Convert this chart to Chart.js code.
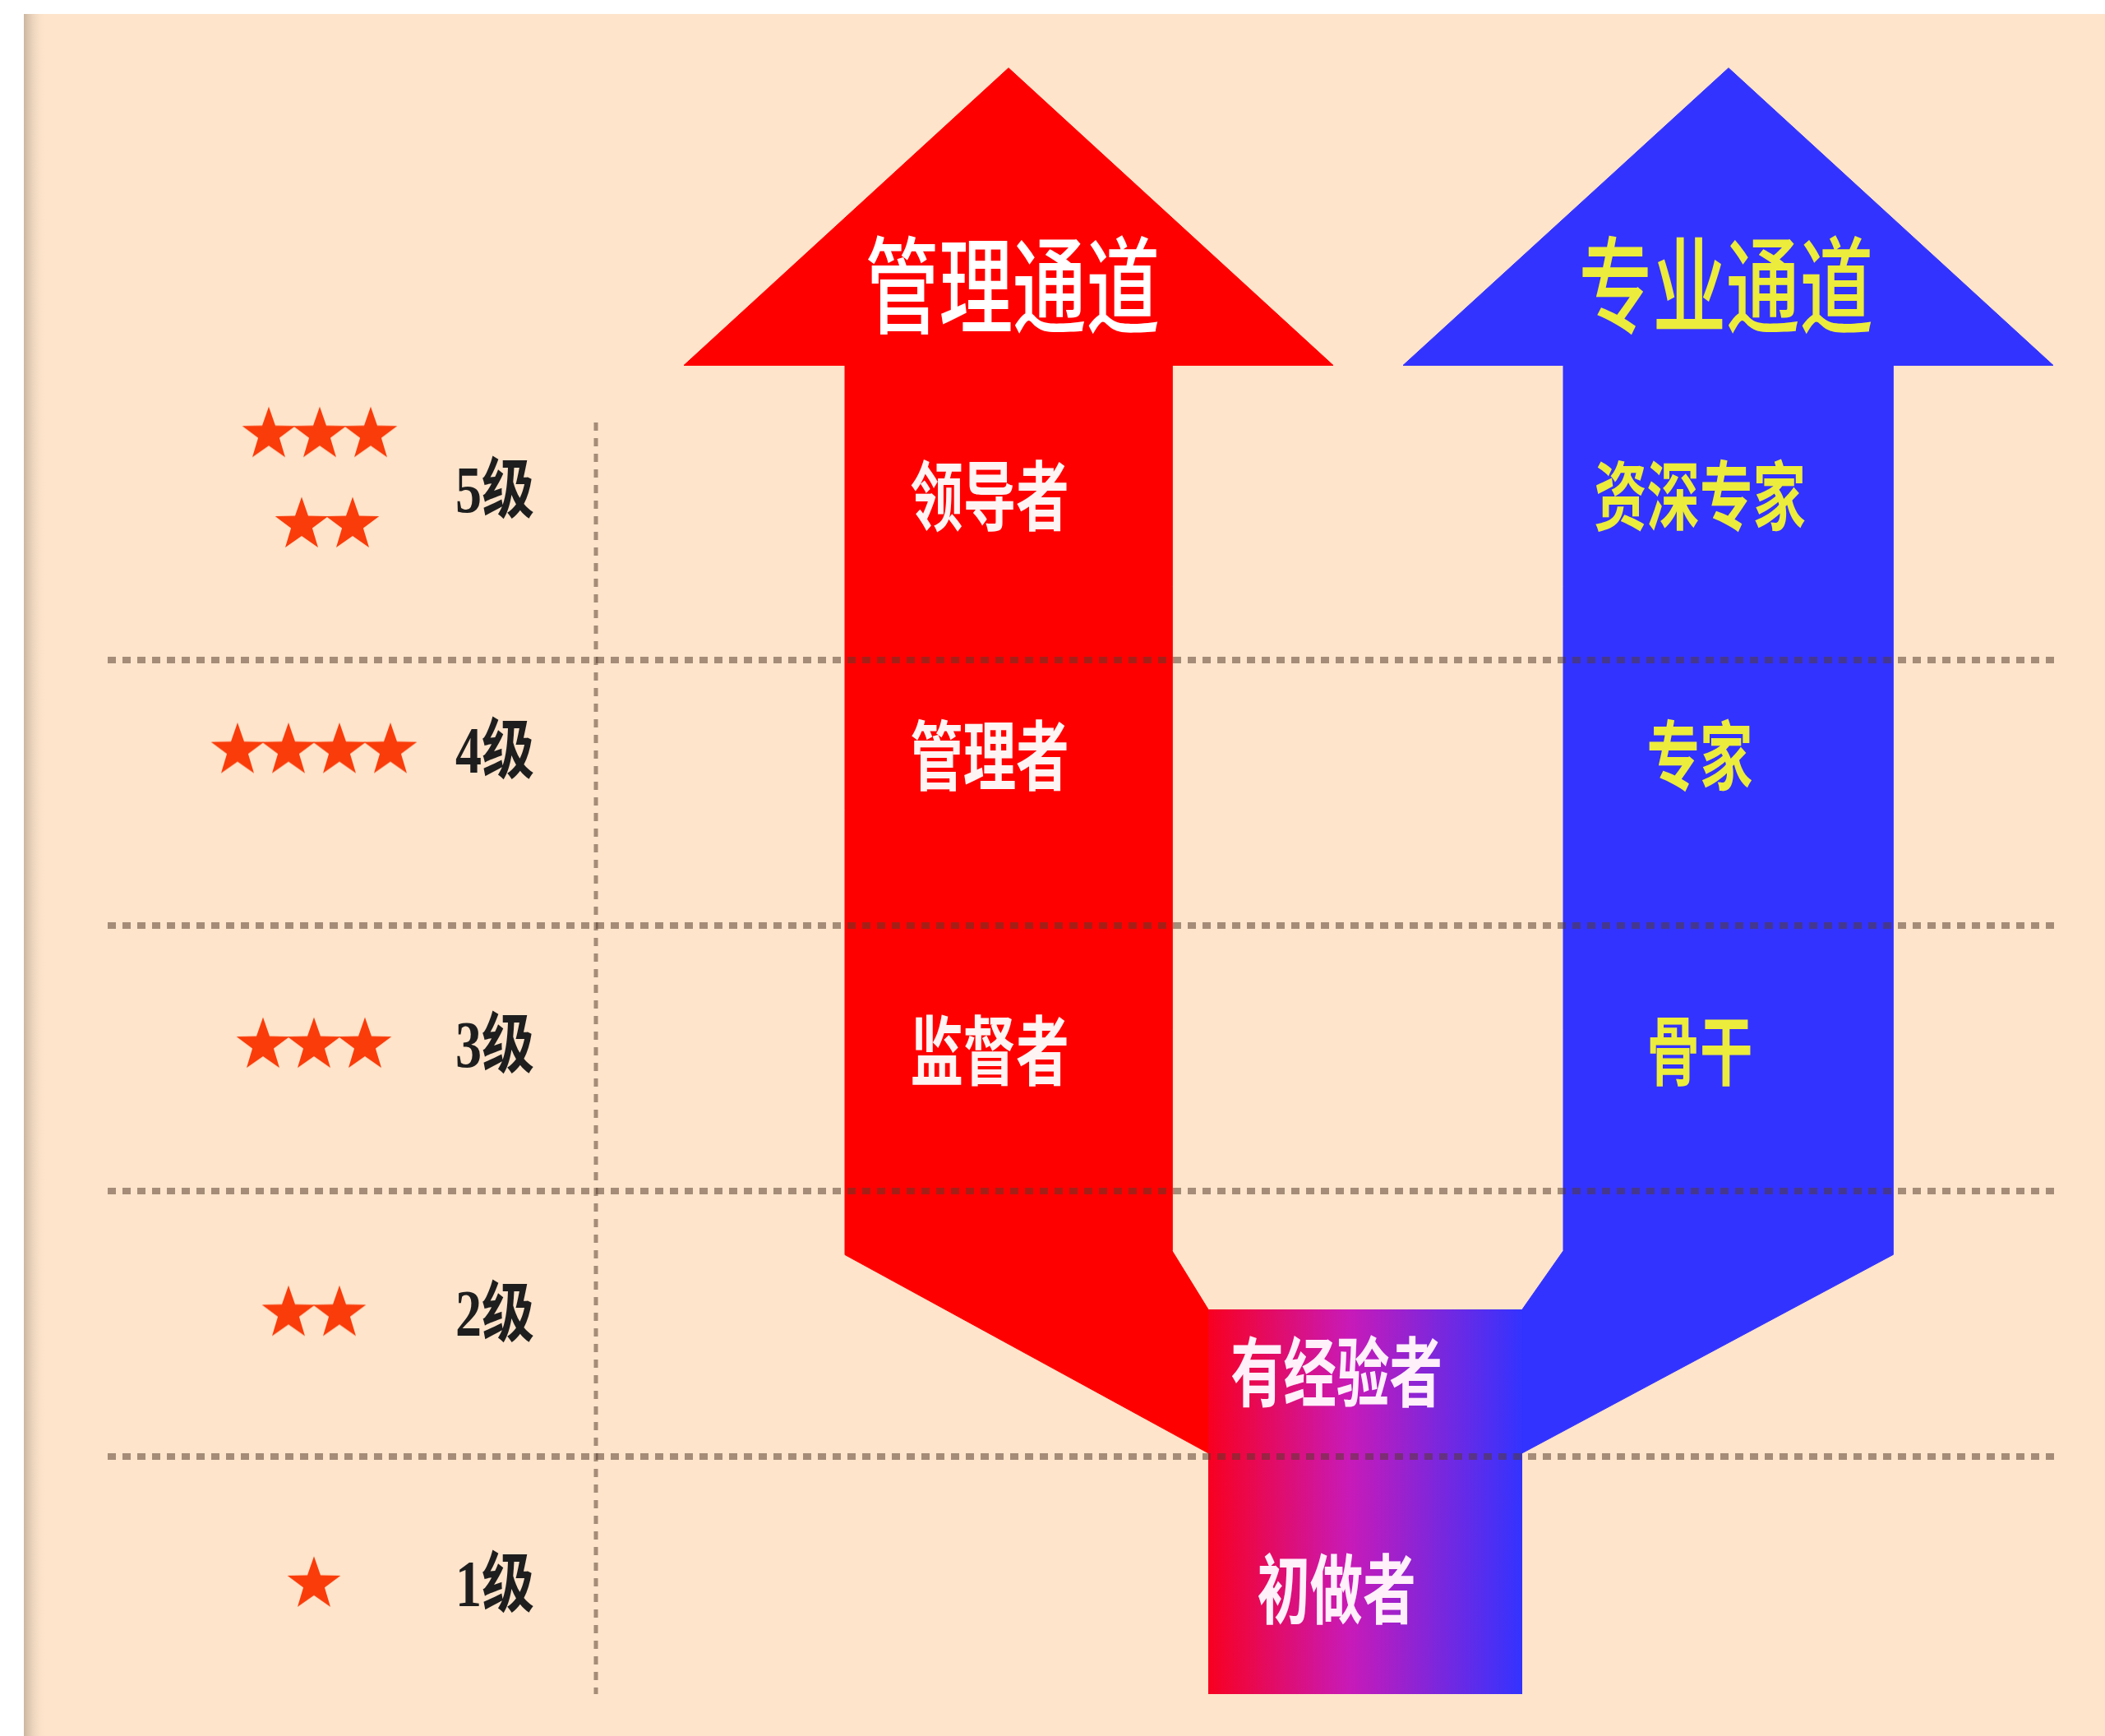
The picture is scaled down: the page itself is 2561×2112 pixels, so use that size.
<!DOCTYPE html>
<html>
<head>
<meta charset="utf-8">
<script src="https://cdn.jsdelivr.net/npm/chart.js@4.4.1/dist/chart.umd.min.js"></script>
<style>
  html, body { margin: 0; padding: 0; background: #fff; overflow: hidden; }
  canvas { display: block; }
</style>
</head>
<body>
<canvas id="careerChart" width="2561" height="2112"></canvas>
<script>
// ===== data =====
const levels = ['1级', '2级', '3级', '4级', '5级'];
const levelStars = [1, 2, 3, 4, 5];
const channels = ['管理通道', '专业通道'];
const managementRoles = ['监督者', '管理者', '领导者'];   // 3级 - 5级
const professionalRoles = ['骨干', '专家', '资深专家'];    // 3级 - 5级
const sharedRoles = ['初做者', '有经验者'];                // 1级 - 2级

// ===== layout (x: 1 unit = 100px, y: 1 unit = one level row) =====
const rowLabelY = [0.5, 1.52, 2.53, 3.64, 4.62];
const sharedLabelY = [0.5, 1.32];
const arrowTipY = 6.23, headBaseY = 5.11;
const innerBendY = 1.775, outerBendY = 1.76, mergeTopY = 1.554, joinY = 1.013, blockBottomY = 0.105;
const redArrow = { tip: 12.27, headL: 8.32, headR: 16.22, shaftL: 10.28, shaftR: 14.26 };
const blueArrow = { tip: 21.03, headL: 17.07, headR: 24.98, shaftL: 19.02, shaftR: 23.03 };
const blockL = 14.70, blockR = 18.52;

const RED = '#ff0000';
const BLUE = '#3333ff';
const PEACH = '#fde4cb';
const DASH = 'rgba(85,60,45,0.52)';

function pts(list) {
  return list.map(p => ({ x: p[0], y: p[1] }));
}

const redShape = pts([
  [redArrow.tip, arrowTipY], [redArrow.headR, headBaseY], [redArrow.shaftR, headBaseY],
  [redArrow.shaftR, innerBendY], [blockL, mergeTopY], [blockL, joinY],
  [redArrow.shaftL, outerBendY], [redArrow.shaftL, headBaseY], [redArrow.headL, headBaseY],
  [redArrow.tip, arrowTipY]
]);
const blueShape = pts([
  [blueArrow.tip, arrowTipY], [blueArrow.headR, headBaseY], [blueArrow.shaftR, headBaseY],
  [blueArrow.shaftR, outerBendY], [blockR, joinY], [blockR, mergeTopY],
  [blueArrow.shaftL, innerBendY], [blueArrow.shaftL, headBaseY], [blueArrow.headL, headBaseY],
  [blueArrow.tip, arrowTipY]
]);
const blockShape = pts([
  [blockL, mergeTopY], [blockR, mergeTopY], [blockR, blockBottomY], [blockL, blockBottomY], [blockL, mergeTopY]
]);

// stars, level 5 is split on two rows
const starPoints = [];
levelStars.forEach((n, i) => {
  const rows = n > 4 ? [Math.ceil(n / 2), Math.floor(n / 2)] : [n];
  rows.forEach((cnt, r) => {
    const y = rows.length > 1 ? rowLabelY[i] + (r === 0 ? 0.24 : -0.1) : rowLabelY[i] + 0.03;
    const cx = 3.82 + (rows.length > 1 ? 0.07 + r * 0.09 : 0);
    for (let k = 0; k < cnt; k++) {
      starPoints.push({ x: cx + (k - (cnt - 1) / 2) * 0.62, y: y });
    }
  });
});

function makeStar(R, color) {
  const c = document.createElement('canvas');
  c.width = c.height = Math.ceil(R * 2 + 4);
  const g = c.getContext('2d');
  const cx = c.width / 2, cy = c.height / 2 + R * 0.1;
  g.beginPath();
  for (let i = 0; i < 10; i++) {
    const rad = i % 2 === 0 ? R : R * 0.4;
    const a = -Math.PI / 2 + i * Math.PI / 5;
    g.lineTo(cx + rad * Math.cos(a), cy + rad * Math.sin(a));
  }
  g.closePath();
  g.fillStyle = color;
  g.fill();
  return c;
}
const starImg = makeStar(34, '#fa3c0a');

const dashLines = [1, 2, 3, 4].map(v => ({
  type: 'line',
  data: [{ x: 1.31, y: v }, { x: 24.99, y: v }],
  borderColor: DASH, borderWidth: 8, borderDash: [10, 8],
  pointRadius: 0, fill: false, order: 1
}));

const bgPlugin = {
  id: 'bg',
  beforeDraw(chart) {
    const ctx = chart.ctx;
    ctx.save();
    ctx.fillStyle = '#ffffff';
    ctx.fillRect(0, 0, chart.width, chart.height);
    ctx.fillStyle = PEACH;
    ctx.fillRect(29, 17, chart.width - 29, chart.height - 17);
    const sh = ctx.createLinearGradient(29, 0, 56, 0);
    sh.addColorStop(0, 'rgba(190,170,150,0.8)');
    sh.addColorStop(1, 'rgba(253,228,203,0)');
    ctx.fillStyle = sh;
    ctx.fillRect(29, 17, 27, chart.height - 17);
    ctx.restore();
  }
};

function drawText(ctx, text, x, y, font, color, sx) {
  ctx.save();
  ctx.translate(x, y);
  ctx.scale(sx, 1);
  ctx.font = font;
  ctx.fillStyle = color;
  ctx.textAlign = 'center';
  ctx.textBaseline = 'middle';
  ctx.fillText(text, 0, 0);
  ctx.restore();
}

const labelPlugin = {
  id: 'labels',
  afterDatasetsDraw(chart) {
    const ctx = chart.ctx;
    const X = v => chart.scales.x.getPixelForValue(v);
    const Y = v => chart.scales.y.getPixelForValue(v);
    const cjk = '"Noto Sans CJK SC", "Noto Sans", sans-serif';

    drawText(ctx, channels[0], X(12.32), Y(5.41), '500 128px ' + cjk, '#ffffff', 0.7);
    drawText(ctx, channels[1], X(21.0), Y(5.41), '500 128px ' + cjk, '#ecec3c', 0.7);

    managementRoles.forEach((t, i) => {
      drawText(ctx, t, X(12.04), Y(rowLabelY[i + 2]), 'bold 92px ' + cjk, '#fff4f4', 0.7);
    });
    professionalRoles.forEach((t, i) => {
      drawText(ctx, t, X(20.68), Y(rowLabelY[i + 2]), 'bold 92px ' + cjk, '#ecec3c', 0.7);
    });
    sharedRoles.forEach((t, i) => {
      drawText(ctx, t, X(16.26), Y(sharedLabelY[i]), 'bold 92px ' + cjk, '#fff0fa', 0.7);
    });
    levels.forEach((t, i) => {
      drawText(ctx, t, X(6.02), Y(rowLabelY[i]), 'bold 80px "Liberation Serif", ' + cjk, '#1e1e1e', 0.8);
    });
  }
};

new Chart(document.getElementById('careerChart'), {
  type: 'scatter',
  data: {
    datasets: [
      {
        type: 'scatter',
        data: starPoints,
        pointStyle: starImg,
        pointRadius: 30,
        order: 0
      },
      ...dashLines,
      {
        type: 'line',
        data: [{ x: 7.25, y: 4.895 }, { x: 7.25, y: 0.105 }],
        borderColor: DASH, borderWidth: 5, borderDash: [10, 9],
        pointRadius: 0, fill: false, order: 1
      },
      {
        type: 'line',
        data: redShape,
        borderColor: RED, borderWidth: 1, backgroundColor: RED,
        pointRadius: 0, fill: 'shape', tension: 0, order: 3
      },
      {
        type: 'line',
        data: blueShape,
        borderColor: BLUE, borderWidth: 1, backgroundColor: BLUE,
        pointRadius: 0, fill: 'shape', tension: 0, order: 3
      },
      {
        type: 'line',
        data: blockShape,
        borderColor: 'rgba(0,0,0,0)', borderWidth: 1,
        backgroundColor: function (context) {
          const chart = context.chart;
          if (!chart.chartArea) return RED;
          const x0 = chart.scales.x.getPixelForValue(blockL);
          const x1 = chart.scales.x.getPixelForValue(blockR);
          const g = chart.ctx.createLinearGradient(x0, 0, x1, 0);
          g.addColorStop(0, '#f80020');
          g.addColorStop(0.45, '#c81ab8');
          g.addColorStop(1, '#3333ff');
          return g;
        },
        pointRadius: 0, fill: 'shape', tension: 0, order: 2
      }
    ]
  },
  options: {
    responsive: false,
    devicePixelRatio: 1,
    animation: false,
    layout: { padding: 0, autoPadding: false },
    plugins: { legend: { display: false }, tooltip: { enabled: false } },
    scales: {
      x: { type: 'linear', min: 0, max: 25.61, display: false },
      y: { type: 'linear', min: -0.0526, max: 6.486, display: false }
    }
  },
  plugins: [bgPlugin, labelPlugin]
});
</script>
</body>
</html>
